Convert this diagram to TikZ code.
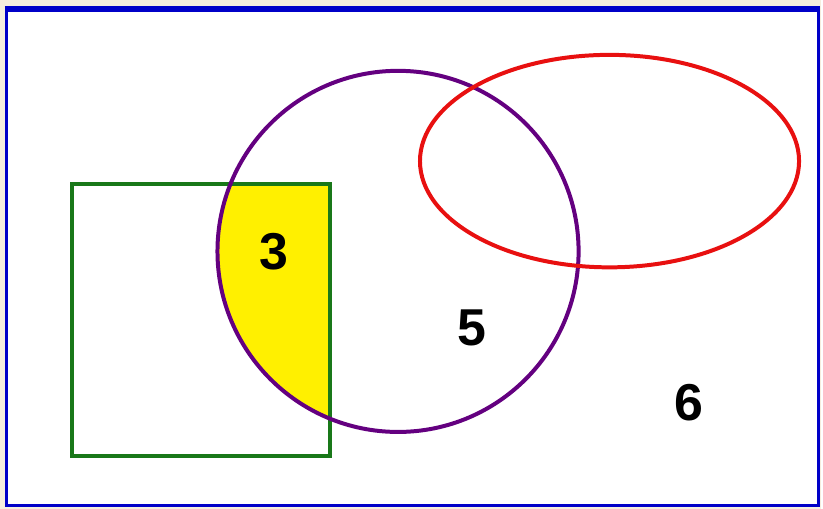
\documentclass[tikz,border=0pt]{standalone}
\usepackage{fontspec}
\setmainfont{Liberation Sans}
\definecolor{cadre}{RGB}{0,0,200}
\definecolor{fond}{RGB}{246,238,222}
\definecolor{violet}{RGB}{100,0,128}
\definecolor{rouge}{RGB}{232,16,16}
\definecolor{vert}{RGB}{25,120,25}
\definecolor{jaune}{RGB}{255,240,0}
\tikzset{
  chiffre/.style={font=\fontsize{52}{56}\selectfont\bfseries},
  trait/.style={line width=4pt}
}
\begin{document}
\begin{tikzpicture}[x=1pt, y=-1pt]

% Fond et cadre
\fill[fond] (0,0) rectangle (823,510);
\fill[white] (7,9) rectangle (820,507);
\draw[cadre, line width=3pt] (7,9) rectangle (820,507);
\draw[cadre, line width=6pt] (5,9) -- (822,9);

% Zone 3 (carre inter cercle)
\begin{scope}
  \clip (399,252) circle (181);
  \fill[jaune] (72,184) rectangle (331,457);
\end{scope}

% Ensembles
\draw[trait, vert] (72,184) rectangle (331,457);
\draw[trait, violet] (399,252) circle (181);
\draw[trait, rouge] (611,161.5) ellipse (190 and 106.5);

% Effectifs
\node[chiffre] (n3) at (275,252) {3};
\node[chiffre] (n5) at (473,329) {5};
\node[chiffre] (n6) at (691,404) {6};

\end{tikzpicture}
\end{document}
